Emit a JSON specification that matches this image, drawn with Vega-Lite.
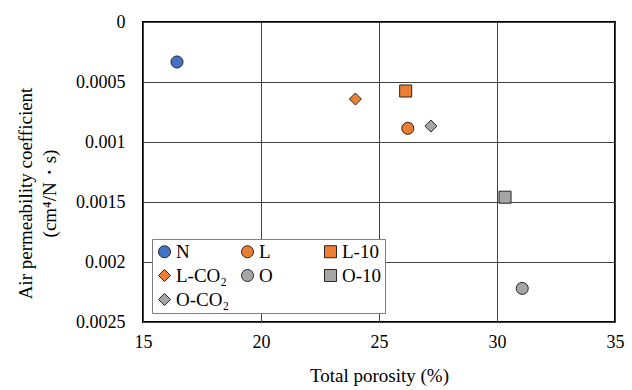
{
  "$schema": "https://vega.github.io/schema/vega-lite/v6.json",
  "width": 472,
  "height": 300,
  "autosize": "none",
  "padding": {"left": 143, "top": 22, "right": 17, "bottom": 68},
  "background": "white",
  "config": {"view": {"stroke": "black", "strokeWidth": 2}, "font": "'Liberation Serif', 'Times New Roman', serif"},
  "data": {"values": [
    {"name": "N", "porosity": 16.44, "perm": 0.000333},
    {"name": "L", "porosity": 26.22, "perm": 0.000886},
    {"name": "L-10", "porosity": 26.13, "perm": 0.000575},
    {"name": "L-CO₂", "porosity": 24.0, "perm": 0.000642},
    {"name": "O", "porosity": 31.07, "perm": 0.00222},
    {"name": "O-10", "porosity": 30.34, "perm": 0.00146},
    {"name": "O-CO₂", "porosity": 27.2, "perm": 0.000867}
  ]},
  "mark": {"type": "point", "filled": true, "stroke": "#262626", "strokeWidth": 1, "opacity": 1, "size": 145},
  "encoding": {
    "x": {"field": "porosity", "type": "quantitative",
      "scale": {"domain": [15, 35], "nice": false, "zero": false},
      "axis": {"title": "Total porosity (%)", "values": [15, 20, 25, 30, 35], "grid": true, "gridColor": "#404040", "gridWidth": 1,
        "domain": false, "ticks": false, "labelFont": "'Liberation Serif', 'Times New Roman', serif", "labelFontSize": 18, "labelColor": "#000", "labelPadding": 11, "labelFlush": false,
        "titleFont": "'Liberation Serif', 'Times New Roman', serif", "titleFontSize": 19, "titleFontWeight": "normal", "titleColor": "#000", "titlePadding": 15}},
    "y": {"field": "perm", "type": "quantitative",
      "scale": {"domain": [0, 0.0025], "reverse": true, "nice": false, "zero": false},
      "axis": {"title": ["Air permeability coefficient", "(cm⁴/N・s)"], "values": [0, 0.0005, 0.001, 0.0015, 0.002, 0.0025], "format": "~f",
        "grid": true, "gridColor": "#404040", "gridWidth": 1, "domain": false, "ticks": false,
        "labelFont": "'Liberation Serif', 'Times New Roman', serif", "labelFontSize": 18, "labelColor": "#000", "labelPadding": 18, "labelFlush": false,
        "titleFont": "'Liberation Serif', 'Times New Roman', serif", "titleFontSize": 19, "titleFontWeight": "normal", "titleColor": "#000", "titleLineHeight": 24,
        "titleX": -108, "titleY": 171}},
    "fill": {"field": "name", "type": "nominal",
      "scale": {"domain": ["N", "L", "L-10", "L-CO₂", "O", "O-10", "O-CO₂"], "range": ["#4472C4", "#ED7D31", "#ED7D31", "#ED7D31", "#A5A5A5", "#A5A5A5", "#A5A5A5"]},
      "legend": {"title": null, "orient": "none", "direction": "horizontal", "legendX": 9, "legendY": 217, "columns": 3, "gridAlign": "all", "columnPadding": 8, "rowPadding": 4, "padding": 3,
        "values": ["N", "L", "L-10", "L-CO₂", "O", "O-10", "O-CO₂"],
        "labelFont": "'Liberation Serif', 'Times New Roman', serif", "labelFontSize": 19, "labelColor": "#000", "labelOffset": 2, "labelLimit": 0,
        "strokeColor": "#7f7f7f", "fillColor": "white", "symbolStrokeColor": "#262626", "symbolStrokeWidth": 1, "symbolSize": 145}},
    "shape": {"field": "name", "type": "nominal",
      "scale": {"domain": ["N", "L", "L-10", "L-CO₂", "O", "O-10", "O-CO₂"], "range": ["circle", "circle", "square", "diamond", "circle", "square", "diamond"]}}
  }
}
